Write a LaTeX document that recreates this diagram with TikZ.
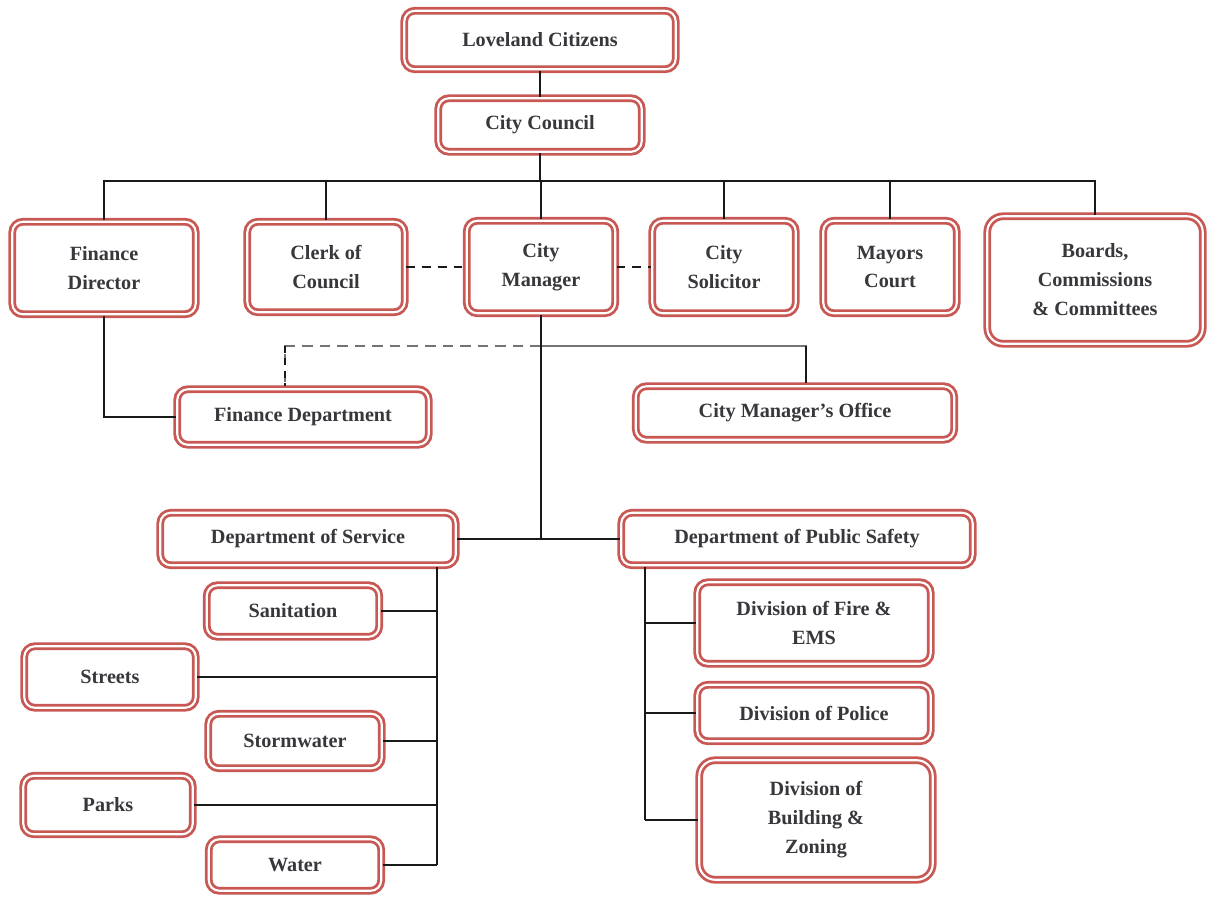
\documentclass[tikz,border=0pt]{standalone}
\usepackage{fontspec}
\setmainfont{Liberation Serif}
\usetikzlibrary{calc}
\definecolor{boxred}{RGB}{200,88,84}
\definecolor{inktext}{RGB}{55,55,60}
\tikzset{
  unit/.style={draw=boxred, double=white, line width=1.6pt, double distance=1.2pt,
    rounded corners=6pt, fill=white, align=center, text=inktext,
    font=\bfseries\fontsize{11.5}{16.5}\selectfont, inner sep=2pt},
  link/.style={line width=0.9pt, black!90},
  dotlink/.style={line width=0.9pt, black!90, dash pattern=on 5pt off 4pt},
  greylink/.style={line width=1.4pt, black!55}
}
\begin{document}
\begin{tikzpicture}[x=0.02cm, y=-0.02cm]
  \useasboundingbox (0,0) rectangle (1208,897);

  % Top of the chart
  \node[unit, minimum width=5.43cm, minimum height=1.17cm] (citizens) at (540,40) {Loveland Citizens};
  \node[unit, minimum width=4.07cm, minimum height=1.07cm] (council) at (540,125) {City Council};

  % Offices under the council
  \node[unit, minimum width=3.67cm, minimum height=1.85cm] (findir) at (104,268) {Finance\\Director};
  \node[unit, minimum width=3.15cm, minimum height=1.81cm] (clerk) at (326,267) {Clerk of\\Council};
  \node[unit, minimum width=2.97cm, minimum height=1.85cm] (manager) at (541,267) {City\\Manager};
  \node[unit, minimum width=2.87cm, minimum height=1.85cm] (solicitor) at (724,267) {City\\Solicitor};
  \node[unit, minimum width=2.67cm, minimum height=1.85cm] (mayors) at (890,267) {Mayors\\Court};
  \node[unit, minimum width=4.31cm, minimum height=2.55cm, rounded corners=9pt] (boards) at (1095,280) {Boards,\\Commissions\\\& Committees};

  % Finance and manager's office
  \node[unit, minimum width=5.03cm, minimum height=1.11cm] (findept) at (303,417) {Finance Department};
  \node[unit, minimum width=6.37cm, minimum height=1.07cm] (cmo) at (795,413) {City Manager's Office};

  % Departments
  \node[unit, minimum width=5.91cm, minimum height=1.05cm] (service) at (308,539) {Department of Service};
  \node[unit, minimum width=7.03cm, minimum height=1.05cm] (safety) at (797,539) {Department of Public Safety};

  % Service divisions
  \node[unit, minimum width=3.45cm, minimum height=1.03cm] (sanitation) at (293,611) {Sanitation};
  \node[unit, minimum width=3.43cm, minimum height=1.23cm] (streets) at (110,677) {Streets};
  \node[unit, minimum width=3.47cm, minimum height=1.09cm] (stormwater) at (295,741) {Stormwater};
  \node[unit, minimum width=3.39cm, minimum height=1.17cm] (parks) at (108,805) {Parks};
  \node[unit, minimum width=3.45cm, minimum height=1.03cm] (water) at (295,865) {Water};

  % Public safety divisions
  \node[unit, minimum width=4.67cm, minimum height=1.63cm] (fire) at (814,623) {Division of Fire \&\\EMS};
  \node[unit, minimum width=4.67cm, minimum height=1.13cm] (police) at (814,713) {Division of Police};
  \node[unit, minimum width=4.67cm, minimum height=2.39cm, rounded corners=9pt] (building) at (816,820) {Division of\\Building \&\\Zoning};

  % Helper coordinates for the buses
  \coordinate (bus) at (540,181);
  \coordinate (cmsplit) at (541,346);
  \coordinate (fdtop) at (285,386);
  \coordinate (cmotop) at (806,383);
  \coordinate (svline) at (437,0);
  \coordinate (psline) at (645,0);

  % Council level
  \draw[link] (citizens) -- (council);
  \draw[link] (council.south) -- (council.south |- bus);
  \draw[link] (findir.north) |- (bus) -| (boards.north);
  \foreach \n in {clerk,manager,solicitor,mayors}
    \draw[link] (\n.north) -- (\n.north |- bus);
  \draw[dotlink] (clerk.east) -- (manager.west);
  \draw[dotlink] (manager.east) -- (solicitor.west);

  % Finance director and manager
  \draw[link] (findir.south) |- (findept.west);
  \draw[greylink, dash pattern=on 6pt off 4pt] (cmsplit) -| (fdtop);
  \draw[link, dash pattern=on 4pt off 3pt] (fdtop |- cmsplit) -- (fdtop);
  \draw[greylink] (cmsplit) -| (cmotop);
  \draw[link] (cmotop |- cmsplit) -- (cmotop);
  \draw[link] (manager.south) -- (manager.south |- service.east);
  \draw[link] (service.east) -- (safety.west);

  % Service branch
  \draw[link] (service.south -| svline) -- (water.east -| svline);
  \foreach \n in {sanitation,streets,stormwater,parks,water}
    \draw[link] (\n.east) -- (\n.east -| svline);

  % Public safety branch
  \draw[link] (safety.south -| psline) -- (building.west -| psline);
  \foreach \n in {fire,police,building}
    \draw[link] (\n.west) -- (\n.west -| psline);
\end{tikzpicture}
\end{document}
